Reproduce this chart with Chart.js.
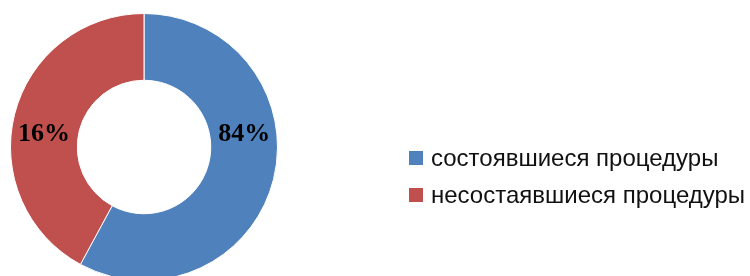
<!DOCTYPE html>
<html>
<head>
<meta charset="utf-8">
<script src="https://cdn.jsdelivr.net/npm/chart.js@4"></script>
<style>
  html, body { margin: 0; padding: 0; background: #fff; }
  #wrap { position: relative; width: 750px; height: 276px; overflow: hidden; }
  #legend { position: absolute; left: 409px; top: 139px; font-family: "Liberation Sans", Arial, sans-serif; font-size: 24px; color: #111; }
  #legend .row { display: flex; align-items: center; height: 37px; white-space: nowrap; }
  #legend .box { width: 14px; height: 14px; margin-right: 8px; flex: none; }
</style>
</head>
<body>
<div id="wrap">
  <canvas id="myChart" width="750" height="300"></canvas>
  <div id="legend"></div>
</div>
<script>
// категории
const categories = ['состоявшиеся процедуры', 'несостаявшиеся процедуры'];
// доли секторов (как нарисовано на картинке)
const sliceValues = [57.9, 42.1];
// подписи на секторах
const sliceLabels = ['84%', '16%'];
const colors = ['#4F81BD', '#C0504D'];

// подписи внутри кольца
const ringLabels = {
  id: 'ringLabels',
  afterDatasetsDraw(chart) {
    const c = chart.ctx;
    const meta = chart.getDatasetMeta(0);
    c.save();
    c.font = 'bold 26px "Liberation Serif", "Times New Roman", serif';
    c.fillStyle = '#000';
    c.textAlign = 'center';
    c.textBaseline = 'middle';
    meta.data.forEach((arc, i) => {
      const p = arc.getProps(['x', 'y', 'innerRadius', 'outerRadius']);
      const mid = arc.tooltipPosition();
      const r = (p.innerRadius + p.outerRadius) / 2;
      const side = mid.x >= p.x ? 1 : -1;
      c.fillText(sliceLabels[i], p.x + side * r, p.y - 13);
    });
    c.restore();
  }
};

const ctx = document.getElementById('myChart');
new Chart(ctx, {
  type: 'doughnut',
  data: {
    labels: categories,
    datasets: [{
      data: sliceValues,
      backgroundColor: colors,
      borderColor: '#ffffff',
      borderWidth: 1
    }]
  },
  options: {
    responsive: false,
    animation: false,
    cutout: '50%',
    layout: { padding: { top: 13, bottom: 19, left: 10, right: 472 } },
    plugins: {
      legend: { display: false },
      tooltip: { enabled: false }
    }
  },
  plugins: [ringLabels]
});

// легенда
const legend = document.getElementById('legend');
categories.forEach((name, i) => {
  const row = document.createElement('div');
  row.className = 'row';
  const box = document.createElement('span');
  box.className = 'box';
  box.style.background = colors[i];
  const txt = document.createElement('span');
  txt.textContent = name;
  row.appendChild(box);
  row.appendChild(txt);
  legend.appendChild(row);
});
</script>
</body>
</html>
